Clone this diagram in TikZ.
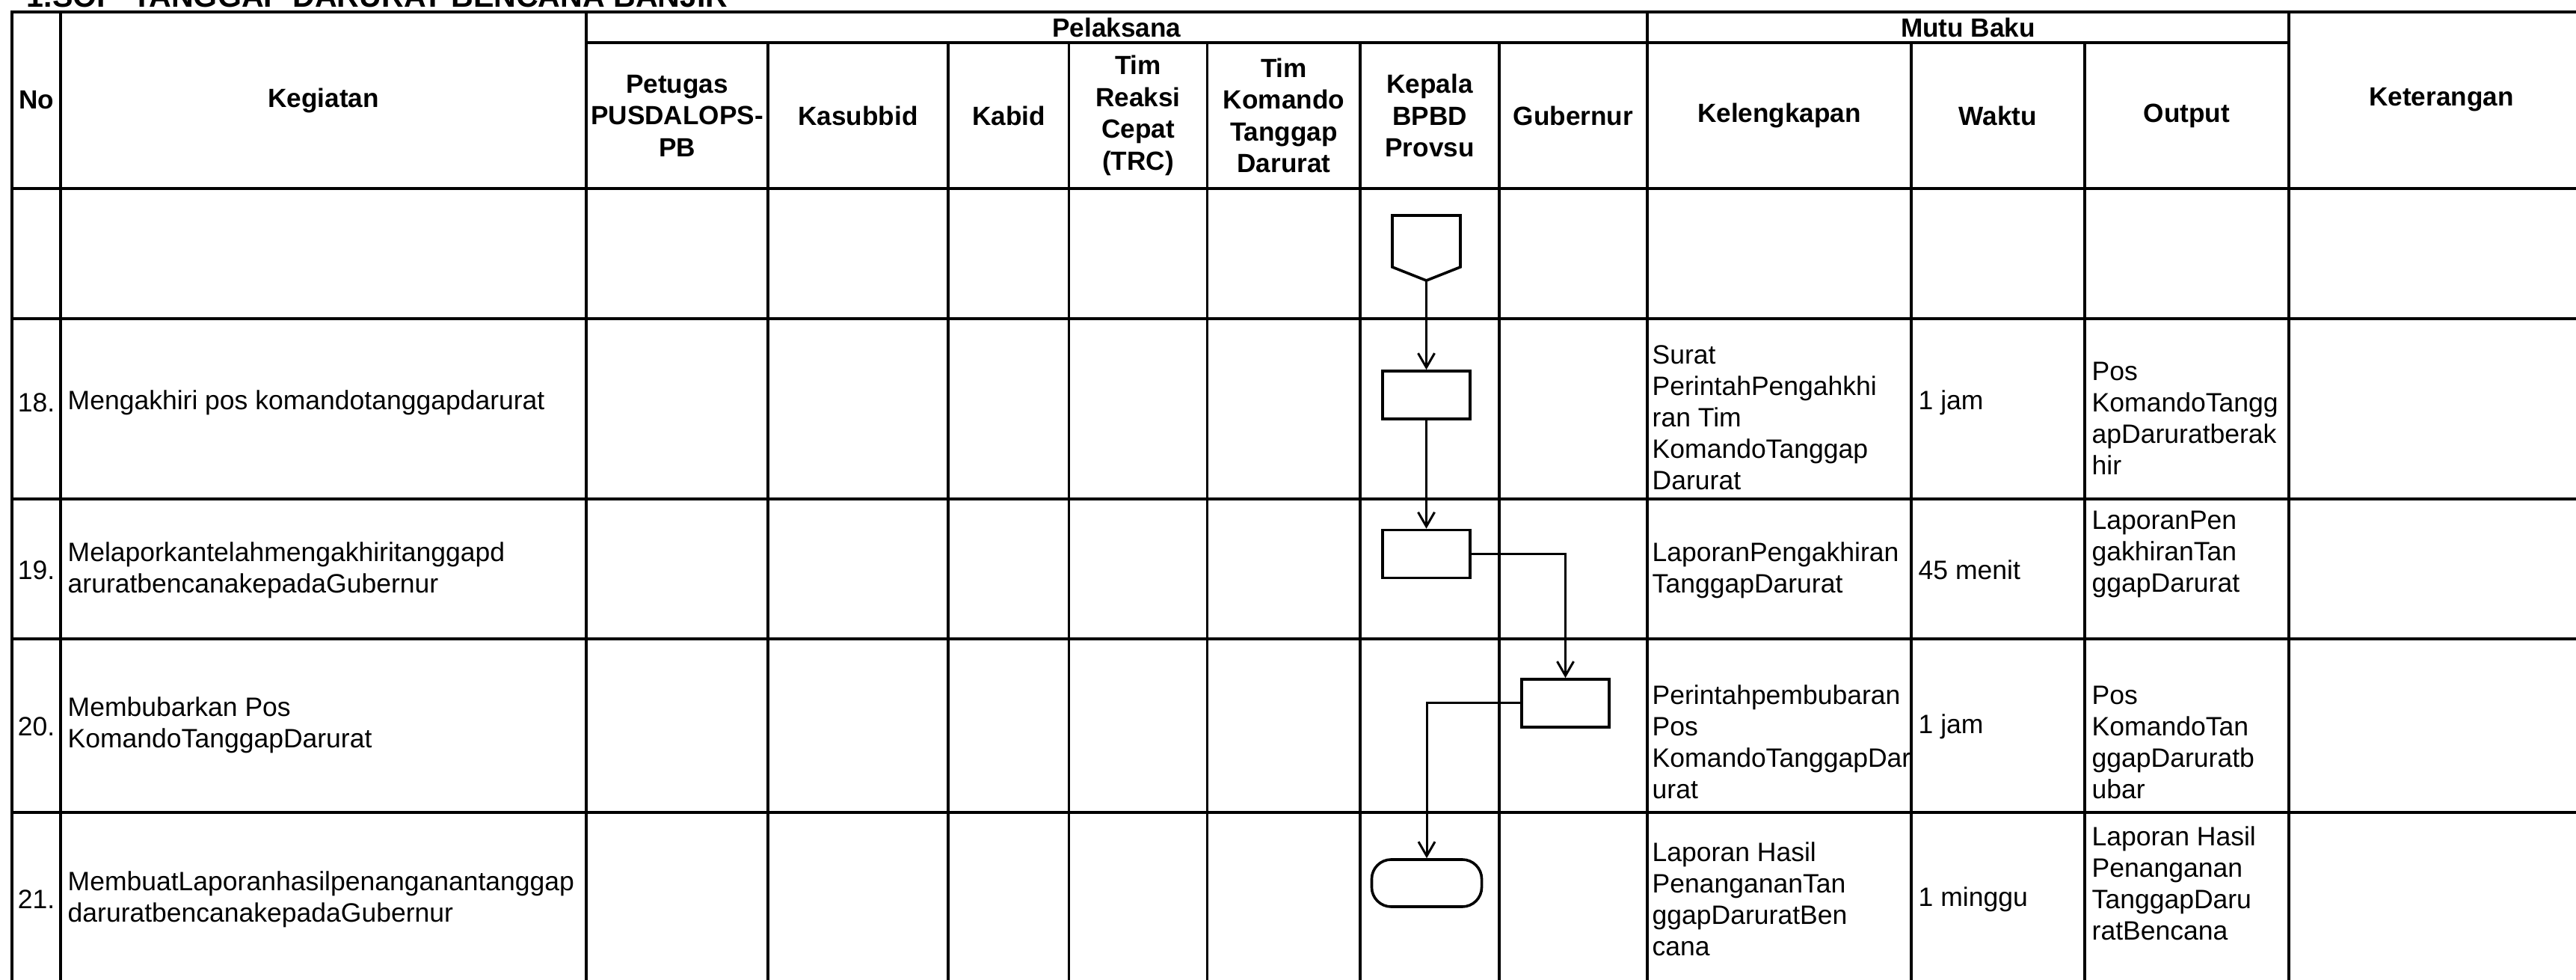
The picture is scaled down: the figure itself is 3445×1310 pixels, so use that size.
\documentclass[tikz,border=0pt]{standalone}
\usepackage{fontspec}
\setmainfont{Liberation Sans}
\usetikzlibrary{arrows.meta}
\begin{document}
\begin{tikzpicture}[x=0.01cm,y=-0.01cm,
  grid/.style={line width=0.034cm},
  thickgrid/.style={line width=0.04cm},
  hdr/.style={font=\bfseries\fontsize{10pt}{12.1pt}\selectfont, align=center, inner sep=0pt},
  txt/.style={font=\fontsize{10.1pt}{11.95pt}\selectfont, align=left, anchor=west, inner sep=0pt},
  num/.style={font=\fontsize{10.1pt}{11.95pt}\selectfont, inner sep=0pt},
  proc/.style={draw, line width=0.036cm, minimum width=1.17cm, minimum height=0.64cm, inner sep=0pt},
  term/.style={draw, line width=0.036cm, minimum width=1.47cm, minimum height=0.63cm, rounded corners=0.26cm, inner sep=0pt},
  flow/.style={line width=0.03cm, -{Straight Barb[length=0.19cm,width=0.22cm]}}
]
\clip (0,0) rectangle (3445,1310);
% title (cut by the page edge, as in the reference)
\node[anchor=base west, inner sep=0pt, font=\bfseries\fontsize{11.7pt}{13pt}\selectfont] (title) at (35,10) {1.SOP\hspace{0.5em}TANGGAP DARURAT BENCANA BANJIR};
% grid
\draw[thickgrid] (16,1360) -- (16,16) -- (3520,16);
\draw[grid] (784,57) -- (3061,57);
\draw[thickgrid] (16,252) -- (3520,252);
\foreach \y in {426,667,854,1086} \draw[grid] (16,\y) -- (3520,\y);
\foreach \x in {81,784,2203,3061} \draw[grid] (\x,16) -- (\x,1360);
\foreach \x in {1027,1268,1429.5,1614.5,1819,2005,2556,2788} \draw[grid] (\x,57) -- (\x,1360);
% header
\node[hdr] (hNo) at (48.5,134) {No};
\node[hdr] (hKeg) at (432.5,134) {Kegiatan};
\node[hdr] (hPel) at (1493.5,37) {Pelaksana};
\node[hdr] (hMutu) at (2632,37) {Mutu Baku};
\node[hdr] (hKet) at (3265,133) {Keterangan};
\node[hdr] (hPet) at (905.5,154.5) {Petugas\\PUSDALOPS-\\PB};
\node[hdr] (hKas) at (1147.5,154.5) {Kasubbid};
\node[hdr] (hKab) at (1349,154.5) {Kabid};
\node[hdr] (hTRC) at (1522,154.5) {Tim\\Reaksi\\Cepat\\(TRC)};
\node[hdr] (hTKTD) at (1717,154.5) {Tim\\Komando\\Tanggap\\Darurat};
\node[hdr] (hKep) at (1912,154.5) {Kepala\\BPBD\\Provsu};
\node[hdr] (hGub) at (2104,154.5) {Gubernur};
\node[hdr] (hKel) at (2379.5,154.5) {Kelengkapan};
\node[hdr] (hWak) at (2672,154.5) {Waktu};
\node[hdr] (hOut) at (2924.5,154.5) {Output};
% row 18
\node[num] (n18) at (48.5,538) {18.};
\node[txt] (k18) at (90,538) {Mengakhiri pos komandotanggapdarurat};
\node[txt] (l18) at (2209,558) {Surat\\PerintahPengahkhi\\ran Tim\\KomandoTanggap\\Darurat};
\node[txt] (w18) at (2565,538) {1 jam};
\node[txt] (o18) at (2797,559) {Pos\\KomandoTangg\\apDaruratberak\\hir};
% row 19
\node[num] (n19) at (48.5,762) {19.};
\node[txt] (k19) at (90,762) {Melaporkantelahmengakhiritanggapd\\aruratbencanakepadaGubernur};
\node[txt] (l19) at (2209,762) {LaporanPengakhiran\\TanggapDarurat};
\node[txt] (w19) at (2565,762) {45 menit};
\node[txt] (o19) at (2797,741) {LaporanPen\\gakhiranTan\\ggapDarurat};
% row 20
\node[num] (n20) at (48.5,971) {20.};
\node[txt] (k20) at (90,969) {Membubarkan Pos\\KomandoTanggapDarurat};
\node[txt] (l20) at (2209,992) {Perintahpembubaran\\Pos\\KomandoTanggapDar\\urat};
\node[txt] (w20) at (2565,971) {1 jam};
\node[txt] (o20) at (2797,992) {Pos\\KomandoTan\\ggapDaruratb\\ubar};
% row 21
\node[num] (n21) at (48.5,1202) {21.};
\node[txt] (k21) at (90,1202) {MembuatLaporanhasilpenanganantanggap\\daruratbencanakepadaGubernur};
\node[txt] (l21) at (2209,1202) {Laporan Hasil\\PenangananTan\\ggapDaruratBen\\cana};
\node[txt] (w21) at (2565,1202) {1 minggu};
\node[txt] (o21) at (2797,1181) {Laporan Hasil\\Penanganan\\TanggapDaru\\ratBencana};
% flow shapes
\coordinate (opc) at (1907.5,375);
\draw[line width=0.036cm, line join=miter] (1862,288) -- (1953,288) -- (1953,357) -- (opc) -- (1862,357) -- cycle;
\node[proc] (p18) at (1907.5,528) {};
\node[proc] (p19) at (1907.5,740.5) {};
\node[proc] (p20) at (2093.5,940) {};
\node[term] (t21) at (1908,1180.5) {};
% connectors
\draw[flow] (opc) -- (p18.north);
\draw[flow] (p18.south) -- (p19.north);
\draw[flow] (p19.east) -| (p20.north);
\draw[flow] (p20.west) -| (t21.north);
\end{tikzpicture}
\end{document}
